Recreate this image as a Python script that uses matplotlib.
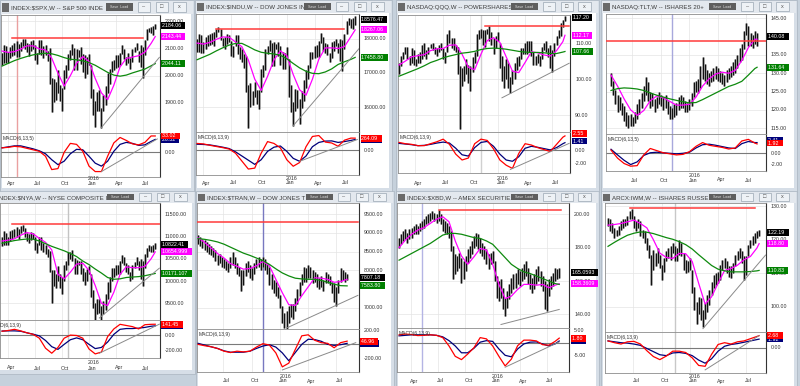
import matplotlib
matplotlib.use("Agg")
import matplotlib.pyplot as plt
from matplotlib.patches import Rectangle
from matplotlib import font_manager, transforms
import pandas as pd

# ======================= DATA =======================
# --- S&P 500 ($SPX) weekly ---
spx_start = "2015-03-13"
spx_hi = [2083,2114,2107,2088,2106,2111,2120,2126,2117,2123,
          2134,2133,2121,2115,2126,2129,2112,2083,2129,2132,
          2110,2113,2092,2103,1993,1986,1975,2021,1965,1954,
          2020,2039,2080,2094,2116,2100,2097,2095,2104,2080,
          2076,2068,2081,2038,1950,1908,1940,1947,1881,1930,
          1962,2010,2023,2052,2056,2075,2075,2084,2112,2099,
          2067,2084,2064,2099,2106,2120,2091,2113,2104,2132,
          2169,2175,2178,2183,2188]
spx_lo = [2040,2045,2045,2045,2064,2073,2077,2067,2069,2089,
          2109,2099,2085,2072,2089,2099,2056,2044,2078,2077,
          2063,2076,2053,1971,1867,1903,1910,1938,1908,1872,
          1950,1990,2019,2058,2076,2022,2019,2070,2042,2012,
          1993,2006,2038,1918,1857,1812,1872,1872,1810,1871,
          1891,1937,1969,2012,2022,2027,2033,2039,2079,2060,
          2039,2045,2026,2049,2086,2095,2051,2032,1992,2074,
          2130,2159,2157,2147,2169]
spx_fast = [2090,2085,2088,2097,2109,2109,2098,2094,2064,2009,1962,2000,2045,
            2070,2052,1990,1937,1912,1965,2032,2063,2068,2073,2086,2118,2143]
spx_slow = [2035,2045,2055,2063,2070,2076,2080,2082,2080,2074,2066,2060,2058,
            2054,2048,2038,2025,2012,2002,1998,2002,2010,2017,2024,2036,2044]
spx_macd = [9,10,12,11,8,5,2,-8,-35,-33,0,18,16,2,-28,-39,-39,-8,19,30,24,17,15,20,33,33]
spx_signal = [9,11,13,13,10,7,3,-3,-15,-25,-18,-3,6,5,-8,-22,-28,-18,2,16,20,18,14,15,22,26]
spx_resist = [2137, "2015-04-17", "2016-07-01"]
spx_trend = [("2016-02-12", 1810), ("2016-08-26", 2067)]
spx_macd_trend = [("2016-02-12", -39), ("2016-08-19", 27)]
spx_mark = "2015-05-01"
spx_tags = ["2184.06", "2143.44", "2044.11"]
spx_macd_tags = ["33.02", "26.32"]
spx_levels = [1900, 2000, 2100, 2200]
spx_macd_levels = [0]

# --- Dow Jones Industrials ($INDU) weekly ---
indu_start = "2015-03-13"
indu_hi = [18000,18160,18130,17900,18070,18110,18140,18180,18200,18290,
           18350,18300,18040,18050,18150,18110,17950,17800,18130,18120,
           17750,17700,17550,17500,16650,16700,16480,16740,16500,16500,
           17120,17240,17700,17800,17980,17880,17900,17860,17900,17780,
           17620,17600,17750,17400,16650,16150,16520,16500,16240,16480,
           16800,17100,17240,17630,17630,17800,17830,17950,18170,18050,
           17880,17840,17600,17900,17930,18000,17870,18000,17980,18150,
           18540,18620,18600,18620,18670]
indu_lo = [17630,17630,17600,17600,17720,17800,17820,17840,17800,18050,
           18200,17980,17800,17700,17860,17900,17500,17470,17780,17560,
           17400,17330,17160,16450,15370,16000,16050,16300,16100,15950,
           16450,16880,17100,17550,17650,17220,17200,17700,17500,17230,
           17130,17120,17400,16300,15840,15450,15880,15960,15500,15970,
           16170,16550,16820,17150,17400,17450,17480,17480,17870,17660,
           17600,17530,17330,17440,17650,17800,17600,17350,17060,17710,
           18150,18400,18330,18300,18400]
indu_fast = [17880,17850,17900,17990,18061,18052,17912,17771,17382,16820,16487,16902,17383,
             17650,17511,16956,16506,16346,16819,17406,17738,17738,17722,17777,18070,18267]
indu_slow = [17390,17470,17550,17650,17740,17820,17870,17870,17780,17680,17610,17580,17560,
             17520,17420,17280,17150,17050,16990,16980,17030,17120,17250,17330,17400,17459]
indu_macd = [150,140,110,85,60,30,-60,-230,-400,-380,-60,190,150,55,-200,-340,-260,80,300,
             320,180,160,90,220,265,264]
indu_signal = [133,128,118,95,70,40,-30,-120,-210,-300,-200,-20,70,95,-20,-170,-234,-120,80,
               172,200,205,172,190,215,234]
indu_resist = [18300, "2015-05-15", "2016-07-08"]
indu_trend = [("2016-01-22", 15450), ("2016-08-26", 17730)]
indu_macd_trend = [("2016-02-12", -234), ("2016-08-19", 234)]
indu_mark = None
indu_tags = ["18576.47", "18267.06", "17458.80"]
indu_macd_tags = ["264.09", "233.70"]
indu_levels = [16000, 17000, 18000]
indu_macd_levels = [0]

# --- PowerShares QQQ weekly ---
qqq_start = "2015-02-06"
qqq_hi = [104.5,106.5,107.5,109.0,109.0,106.5,108.5,108.0,105.7,107.0,
          107.5,109.5,110.0,108.0,109.0,109.7,110.0,109.0,108.5,109.5,
          110.0,108.5,107.5,112.5,113.5,111.5,111.5,109.5,109.0,103.5,
          103.0,103.5,105.5,104.0,103.5,106.0,107.5,112.5,113.5,114.0,
          113.5,113.5,114.0,114.7,113.0,111.5,112.0,113.0,110.0,106.5,
          103.5,105.5,104.5,100.5,102.5,104.5,106.0,106.5,108.5,108.5,
          110.0,110.5,110.5,110.7,107.5,106.5,107.0,106.5,109.0,110.0,
          110.5,108.5,109.5,108.0,110.0,112.0,113.5,115.5,116.5,117.5]
qqq_lo = [101.5,103.5,105.5,107.0,105.5,104.0,104.5,104.0,103.5,104.5,
          104.5,105.5,106.5,105.5,107.0,108.5,108.0,107.0,106.5,107.5,
          108.0,105.5,104.5,107.5,110.0,108.5,108.0,107.5,101.5,86.2,
          98.0,99.5,101.5,99.0,96.8,102.0,104.5,106.5,111.0,111.5,
          109.5,109.0,112.5,110.5,109.5,107.0,108.5,110.5,103.0,99.5,
          97.5,100.0,97.5,96.1,98.5,100.0,102.5,103.5,105.5,107.0,
          107.0,107.0,107.5,106.5,104.0,104.0,104.5,103.5,105.5,108.0,
          107.5,106.0,103.0,102.0,106.5,109.5,111.5,112.0,114.5,116.0]
qqq_fast = [103.9,105.0,106.2,106.5,106.8,107.9,108.4,108.5,109.4,109.5,106.9,103.3,102.6,106.9,
            110.7,111.5,110.2,106.2,102.2,101.8,104.6,107.6,107.3,106.7,106.4,107.9,110.4,112.17]
qqq_slow = [100.8,101.5,102.2,102.9,103.7,104.6,105.2,105.9,106.4,106.8,107.2,107.4,107.7,108.2,
            108.5,108.6,108.5,108.3,108.0,107.7,107.5,107.4,107.4,107.3,107.1,107.1,107.5,107.66]
qqq_macd = [1.2,1.0,0.9,0.7,0.7,1.0,1.3,1.7,0.9,-0.6,-1.5,-1.2,1.0,1.7,1.5,0.2,-1.5,-2.3,-2.8,
            -0.5,1.0,0.8,0.4,0.1,-0.2,0.9,2.0,2.2]
qqq_signal = [1.05,0.95,0.85,0.7,0.75,0.9,1.1,1.25,1.1,0.3,-0.7,-0.9,0.4,1.2,1.35,0.6,-0.6,-1.5,
              -1.7,-1.0,0.3,0.6,0.45,0.25,0.05,0.4,1.0,1.16]
qqq_resist = [114.7, "2015-11-20", "2016-08-26"]
qqq_trend = [("2016-01-15", 94.8), ("2016-08-26", 104.4)]
qqq_macd_trend = [("2016-02-12", -2.95), ("2016-08-26", 1.05)]
qqq_mark = "2015-11-06"
qqq_tags = ["117.20", "112.17", "107.66"]
qqq_macd_tags = ["2.55", "1.41"]
qqq_levels = [90, 100, 110]
qqq_macd_levels = [0, -2]

# --- iShares 20+ Year Treasury (TLT) weekly ---
tlt_start = "2015-04-24"
tlt_hi = [130.0,128.0,125.5,124.0,123.5,122.0,121.0,119.5,118.5,119.0,
          118.0,119.5,121.5,123.0,124.5,126.5,129.0,127.5,125.0,124.5,
          123.0,123.5,125.0,124.0,123.5,124.0,122.5,121.0,120.5,121.5,
          122.0,123.5,124.0,123.5,122.5,122.0,123.0,124.5,127.5,128.0,
          128.5,132.0,134.5,132.5,131.0,130.0,130.5,131.5,132.0,131.5,
          130.5,130.0,129.5,131.0,131.5,132.0,133.0,134.0,135.0,137.0,
          138.0,141.5,143.8,143.0,141.0,140.5,141.5,141.0]
tlt_lo = [126.5,124.0,121.5,119.5,120.0,118.5,117.0,115.5,115.0,115.5,
          115.5,116.5,117.5,119.0,120.5,122.5,124.0,122.5,120.5,121.0,
          119.5,120.5,121.5,121.0,120.0,120.5,119.0,117.5,117.5,118.0,
          118.5,120.0,120.5,120.5,119.5,119.5,120.0,121.0,123.5,125.0,
          124.5,126.0,128.5,128.0,127.0,126.5,127.5,128.0,128.5,128.0,
          127.5,127.0,126.5,127.5,128.5,129.0,129.5,130.0,131.5,133.0,
          133.5,136.5,140.5,137.5,137.5,137.0,138.0,137.5]
tlt_fast = [129.5,126.5,123.0,120.0,118.5,119.8,122.5,123.8,123.3,122.3,121.3,121.3,121.5,
            123.5,126.5,128.5,129.8,130.3,130.0,130.8,133.5,137.0,139.3,139.3]
tlt_slow = [125.3,125.8,126.0,125.9,125.7,125.3,124.6,124.0,123.5,123.0,122.6,122.2,121.9,
            122.0,122.8,123.7,124.6,125.5,126.4,127.0,127.8,129.5,131.3,131.64]
tlt_macd = [0.6,-0.9,-1.9,-2.4,-2.3,-0.3,0.9,0.5,0.1,-0.1,-0.3,-0.2,0.3,1.3,2.0,1.5,1.3,1.1,
            0.8,1.0,2.3,2.6,1.9,1.75]
tlt_signal = [0.75,-0.3,-1.3,-2.1,-1.6,-0.4,0.1,0.2,0.1,0.0,-0.1,0.0,0.2,1.0,1.6,1.7,1.5,1.25,
              1.0,0.9,1.8,2.2,2.0,2.0]
tlt_resist = [138.9, "2015-03-27", "2016-09-09"]
tlt_trend = None
tlt_macd_trend = None
tlt_mark = "2015-11-06"
tlt_tags = ["140.08", None, "131.64"]
tlt_macd_tags = ["1.92", "2.41"]
tlt_levels = [115, 120, 125, 130, 135, 145]
tlt_macd_levels = [0, -2]

# --- NYSE Composite ($NYA) weekly ---
nya_start = "2015-03-13"
nya_hi = [11000,11130,11080,10980,11120,11150,11180,11220,11170,11230,
          11250,11200,11080,11050,11100,11080,10980,10850,11000,10990,
          10850,10800,10720,10680,10250,10250,10150,10330,10150,10100,
          10350,10450,10650,10650,10700,10520,10480,10450,10450,10300,
          10200,10280,10330,10150,9800,9500,9600,9600,9450,9550,
          9700,9980,10100,10300,10300,10350,10350,10450,10580,10550,
          10400,10350,10200,10350,10420,10550,10450,10500,10450,10600,
          10750,10800,10780,10820,10850]
nya_lo = [10780,10800,10800,10800,10900,10950,10990,11000,10950,11080,
          11130,11000,10910,10850,10920,10950,10700,10620,10800,10700,
          10650,10600,10550,10200,9500,9900,9850,10000,9850,9700,
          10000,10250,10350,10500,10450,10150,10150,10350,10150,10000,
          9920,10000,10150,9650,9400,9100,9250,9280,9030,9250,
          9350,9600,9750,10000,10100,10130,10150,10150,10400,10350,
          10200,10150,10000,10050,10300,10350,10250,10050,9880,10300,
          10550,10680,10650,10650,10720]
nya_fast = [10900,10920,10950,11030,11090,11060,10960,10870,10700,10150,10050,10200,10380,
            10400,10240,9900,9500,9450,9750,10150,10320,10300,10300,10330,10500,10655]
nya_slow = [10850,10880,10910,10930,10945,10940,10900,10840,10780,10730,10680,10620,10550,
            10450,10370,10270,10180,10080,10040,10050,10080,10090,10100,10120,10150,10171]
nya_macd = [50,60,75,55,30,10,-40,-170,-235,-160,-40,0,-5,-40,-180,-244,-220,-20,80,140,125,
            110,80,135,140,141]
nya_signal = [53,55,55,50,30,12,-10,-70,-150,-185,-120,-60,-36,-60,-120,-175,-160,-90,10,75,
              85,85,90,100,115,120]
nya_resist = [11276, "2015-04-17", "2016-09-09"]
nya_trend = [("2016-02-05", 9170), ("2016-08-26", 10290)]
nya_macd_trend = [("2016-02-05", -235), ("2016-08-26", 142)]
nya_mark = "2015-10-23"
nya_tags = ["10822.41", "10654.999", "10171.107"]
nya_macd_tags = ["141.45", "120.30"]
nya_levels = [9500, 10000, 10500, 11000, 11500]
nya_macd_levels = [0, -200]

# --- Dow Jones Transports ($TRAN) weekly ---
tran_start = "2015-04-10"
tran_hi = [8950,8900,8850,8800,8750,8700,8650,8600,8550,8400,
           8450,8350,8300,8250,8200,8350,8500,8350,8200,8100,
           8000,8000,8200,8250,8150,8050,8200,8300,8350,8300,
           8350,8300,8200,8100,7900,7750,7700,7550,7350,7050,
           6850,6900,7050,7100,7100,7250,7500,7700,7900,8100,
           8050,8150,8100,8000,7950,7900,7800,7850,7750,7950,
           7900,7850,7700,7650,7550,7750,8050,8000,7950,7900]
tran_lo = [8700,8650,8600,8550,8500,8450,8400,8350,8250,8150,
           8200,8100,8050,8000,7950,8050,8150,8050,7900,7850,
           7450,7600,7850,7950,7800,7750,7900,8050,8100,8000,
           8100,8000,7900,7600,7500,7400,7300,7250,7000,6600,
           6450,6403,6600,6750,6700,6900,7100,7300,7600,7700,
           7700,7800,7800,7650,7700,7550,7500,7550,7450,7650,
           7650,7600,7400,7150,7050,7400,7700,7750,7700,7750]
tran_fast = [8870,8750,8600,8450,8330,8180,8110,8030,8050,8120,8240,8120,7760,7400,7080,
             7060,7320,7560,7800,7790,7760,7680,7700,7760]
tran_slow = [8850,8830,8800,8760,8700,8620,8540,8460,8400,8330,8260,8160,8040,7930,7850,
             7790,7770,7760,7760,7730,7680,7630,7590,7584]
tran_macd = [0,-20,-35,-60,-100,-120,-100,-110,-100,-40,10,-10,-125,-330,-275,-75,125,140,
             60,25,15,-50,25,47]
tran_signal = [15,-10,-35,-60,-95,-115,-115,-115,-100,-60,-25,-5,-40,-125,-240,-120,0,75,
               70,45,0,-15,-5,15]
tran_resist = [9288, "2015-03-27", "2016-09-09"]
tran_trend = [("2016-01-22", 6457), ("2016-09-09", 7330)]
tran_macd_trend = [("2016-01-08", -375), ("2016-09-02", 25)]
tran_mark = "2015-11-06"
tran_tags = ["7807.18", None, "7583.80"]
tran_macd_tags = ["46.96", "14.80"]
tran_levels = [7000, 8000, 8500, 9000, 9500]
tran_macd_levels = [200, -200]

# --- AMEX Securities Broker/Dealer ($XBD) weekly ---
xbd_start = "2015-02-20"
xbd_hi = [186,188,190,191,189,191,192,193,194,193,
          195,196,197,199,200,201,202,201,200,202.5,
          200,197,196,195,193,190,181,176,175,177,
          174,172,175,179,181,184,187,189,188,186,
          183,181,179,176,177,178,172,163,160,161,
          156,150,154,158,162,164,165,167,166,168,
          170,172,168,164,162,164,167,169,166,163,
          160,158,161,163,165,168,167,168]
xbd_lo = [180,182,184,185,183,185,186,188,188,188,
          190,191,192,194,195,196,197,196,195,196,
          194,190,189,188,186,178,161,164,166,168,
          159,161,166,171,174,176,180,181,179,177,
          175,173,170,167,170,171,160,150,148,150,
          143,139,144,149,153,155,156,158,157,160,
          161,163,158,155,153,155,158,160,157,154,
          143,142,151,155,157,160,161,162]
xbd_fast = [180,184.5,188,190.5,192,194.5,197,198.5,195.5,184,175,170,174.5,179.5,178.5,170,
            158,149.5,151,155,158,158,157.5,158,156,157.5,158.36]
xbd_slow = [172.5,174.5,176.5,178.5,180.5,182.5,185,187.5,188.5,188.5,188,187,186,185.5,184,
            182,178,174,170,167.5,165.5,164.5,163,161.5,160,158.5,158]
xbd_macd = [3.1,3.4,3.2,2.8,2.9,3.1,2.9,2.0,-1.3,-5.4,-6.7,-4.5,-2.0,2.0,1.5,-1.3,-5.4,-9.2,
            -6.5,-1.2,1.0,1.0,0.7,-0.8,-1.0,0.5,1.8]
xbd_signal = [2.7,2.9,3.1,3.1,3.1,3.1,2.9,2.3,0.8,-1.3,-4.0,-4.0,-2.2,0.2,0.8,0.5,-2.5,-5.0,
              -5.6,-2.5,-0.5,0.2,0.3,-0.5,-1.3,-0.5,0.66]
xbd_resist = [202.6, "2015-07-03", "2016-08-19"]
xbd_trend = [("2016-01-29", 134), ("2016-08-12", 143)]
xbd_macd_trend = [("2016-02-12", -9.7), ("2016-08-12", 0.3)]
xbd_mark = "2015-05-08"
xbd_tags = ["165.0593", "158.3609", None]
xbd_macd_tags = ["1.80", "0.66"]
xbd_levels = [140, 160, 180, 200]
xbd_macd_levels = [5, -5]

# --- iShares Russell 2000 (IWM) weekly ---
iwm_start = "2015-04-10"
iwm_hi = [126.5,126.0,125.0,123.5,123.0,124.0,125.5,126.0,126.0,127.0,
          128.5,129.1,127.0,125.5,126.0,125.5,123.0,122.5,120.5,118.5,
          115.5,117.0,116.0,117.5,115.5,112.5,114.5,116.5,117.5,118.0,
          119.0,118.0,117.5,120.0,119.0,116.0,114.0,113.5,114.5,111.0,
          106.0,101.5,103.0,102.5,99.0,101.0,103.5,105.0,107.5,109.5,
          110.0,110.5,112.5,114.0,114.5,113.5,112.0,112.0,113.0,115.5,
          116.5,117.5,116.5,115.0,115.0,118.5,120.0,121.0,122.0,122.5,
          123.0]
iwm_lo = [124.0,122.5,122.0,120.5,121.0,121.5,123.0,123.5,124.0,124.5,
          126.0,126.0,123.5,122.5,123.5,121.0,120.5,119.0,117.0,114.5,
          106.5,111.0,112.0,113.0,111.5,108.0,110.5,113.5,114.5,114.0,
          116.0,113.5,113.5,115.5,115.0,111.0,110.0,110.5,111.0,104.0,
          99.0,95.0,98.0,96.0,94.0,96.5,98.5,100.5,103.5,105.5,
          106.5,107.0,108.0,111.0,111.5,110.0,109.0,108.5,110.0,112.0,
          114.0,114.5,113.0,108.0,109.5,115.0,117.5,118.5,119.0,120.5,
          121.0]
iwm_fast = [124.3,124.5,124.8,125.3,125.8,124.8,123.5,120.0,116.0,114.7,114.4,115.9,115.8,
            113.5,107.0,100.8,103.0,107.0,110.8,111.4,112.4,114.0,115.0,117.5,118.8]
iwm_slow = [118.0,119.2,120.3,121.3,121.9,122.3,122.2,121.8,121.2,120.6,120.1,119.4,118.5,
            117.2,115.5,113.9,112.3,111.2,110.7,110.4,110.4,110.4,110.5,110.7,110.83]
iwm_macd = [1.5,1.1,0.8,1.3,1.4,0.8,-0.7,-2.0,-2.7,-1.9,-0.8,-0.8,-1.1,-2.3,-4.0,-4.2,-1.5,
            0.7,1.1,0.8,1.3,1.5,2.0,2.5,2.68]
iwm_signal = [1.5,1.3,1.1,1.0,0.8,0.5,-0.2,-0.9,-1.6,-1.8,-1.2,-1.1,-1.3,-1.8,-2.8,-3.5,-2.5,
              -0.8,0.3,0.7,0.9,1.2,1.5,1.8,1.9]
iwm_resist = [129.3, "2015-06-19", "2016-07-29"]
iwm_trend = [("2016-02-12", 93.5), ("2016-09-02", 115.4)]
iwm_macd_trend = [("2016-02-19", -5.0), ("2016-08-12", 2.68)]
iwm_mark = "2015-11-13"
iwm_tags = ["122.19", "118.80", "110.83"]
iwm_macd_tags = ["2.68", "1.92"]
iwm_levels = [100, 110, 120, 130]
iwm_macd_levels = [0]

# ======================= STYLE / LAYOUT =======================
W, H = 800, 386
_names = {f.name for f in font_manager.fontManager.ttflist}
if "Liberation Sans Narrow" in _names:
    FONT, K = "Liberation Sans Narrow", 1.0
else:
    FONT, K = "Liberation Sans", 0.82
plt.rcParams["font.family"] = [FONT, "DejaVu Sans"]

FRAME = "#c6d1dc"
TITLEBG = "#e3e8ee"
FS_TITLE = 5.4 * K
FS_LAB = 4.6 * K
FS_MACD = 4.4 * K

PANELS = [
    dict(title="INDEX:$SPX,W -- S&P 500 INDE", start=spx_start, hi=spx_hi, lo=spx_lo,
         fast=spx_fast, slow=spx_slow, macd=spx_macd, sig=spx_signal, resist=spx_resist,
         trend=spx_trend, mtrend=spx_macd_trend, mark=spx_mark, tags=spx_tags,
         mtags=spx_macd_tags, levels=spx_levels, mlevels=spx_macd_levels, mtitle="MACD(6,13,5)",
         win=(0, 0, 194, 192), th=14, px=(1, 160), py=(15, 133, 177), ly=184, tdx=0, mtx=0.01,
         xlim=(-0.5, 76.3), ylim=(1790, 2222), mylim=(-50, 39), mcol="#eaa0a0"),
    dict(title="INDEX:$INDU,W -- DOW JONES IN", start=indu_start, hi=indu_hi, lo=indu_lo,
         fast=indu_fast, slow=indu_slow, macd=indu_macd, sig=indu_signal, resist=indu_resist,
         trend=indu_trend, mtrend=indu_macd_trend, mark=indu_mark, tags=indu_tags,
         mtags=indu_macd_tags, levels=indu_levels, mlevels=indu_macd_levels, mtitle="MACD(6,13,9)",
         win=(195, 0, 392, 192), th=13, px=(196, 359), py=(14, 132, 175), ly=183, tdx=0, mtx=0.01,
         xlim=(-0.5, 75.8), ylim=(15265, 18735), mylim=(-528, 396), mcol="#cccccc"),
    dict(title="NASDAQ:QQQ,W -- POWERSHARES C", start=qqq_start, hi=qqq_hi, lo=qqq_lo,
         fast=qqq_fast, slow=qqq_slow, macd=qqq_macd, sig=qqq_signal, resist=qqq_resist,
         trend=qqq_trend, mtrend=qqq_macd_trend, mark=qqq_mark, tags=qqq_tags,
         mtags=qqq_macd_tags, levels=qqq_levels, mlevels=qqq_macd_levels, mtitle="MACD(6,13,9)",
         win=(396, 0, 599, 192), th=13, px=(398, 570), py=(15, 132, 173), ly=183, tdx=0, mtx=0.01,
         xlim=(-0.5, 81.4), ylim=(85.3, 117.8), mylim=(-3.5, 2.8), mcol="#d0d0d0"),
    dict(title="NASDAQ:TLT,W -- ISHARES 20+", start=tlt_start, hi=tlt_hi, lo=tlt_lo,
         fast=tlt_fast, slow=tlt_slow, macd=tlt_macd, sig=tlt_signal, resist=tlt_resist,
         trend=tlt_trend, mtrend=tlt_macd_trend, mark=tlt_mark, tags=tlt_tags,
         mtags=tlt_macd_tags, levels=tlt_levels, mlevels=tlt_macd_levels, mtitle="MACD(6,13,5)",
         win=(601, 0, 797, 192), th=13, px=(606, 766), py=(14, 134, 171), ly=180, tdx=0, mtx=0.01,
         xlim=(-2.3, 71.1), ylim=(113.4, 146.2), mylim=(-3.3, 3.6), mcol="#a8a8dc"),
    dict(title="INDEX:$NYA,W -- NYSE COMPOSITE I", start=nya_start, hi=nya_hi, lo=nya_lo,
         fast=nya_fast, slow=nya_slow, macd=nya_macd, sig=nya_signal, resist=nya_resist,
         trend=nya_trend, mtrend=nya_macd_trend, mark=nya_mark, tags=nya_tags,
         mtags=nya_macd_tags, levels=nya_levels, mlevels=nya_macd_levels, mtitle="MACD(6,13,9)",
         win=(-14, 191, 195, 374), th=12, px=(0, 160), py=(203, 320, 358), ly=368, tdx=0, mtx=-0.065,
         xlim=(-1.0, 76.3), ylim=(9125, 11754), mylim=(-297, 196), mcol="#c4c4c4"),
    dict(title="INDEX:$TRAN,W -- DOW JONES T", start=tran_start, hi=tran_hi, lo=tran_lo,
         fast=tran_fast, slow=tran_slow, macd=tran_macd, sig=tran_signal, resist=tran_resist,
         trend=tran_trend, mtrend=tran_macd_trend, mark=tran_mark, tags=tran_tags,
         mtags=tran_macd_tags, levels=tran_levels, mlevels=tran_macd_levels, mtitle="MACD(6,13,9)",
         win=(196, 191, 394, 390), th=12, px=(197, 359), py=(203, 329, 372), ly=381, tdx=0, mtx=0.01,
         xlim=(-0.5, 74.5), ylim=(6430, 9802), mylim=(-405, 225), mcol="#7878c0"),
    dict(title="INDEX:$XBD,W -- AMEX SECURITIES I", start=xbd_start, hi=xbd_hi, lo=xbd_lo,
         fast=xbd_fast, slow=xbd_slow, macd=xbd_macd, sig=xbd_signal, resist=xbd_resist,
         trend=xbd_trend, mtrend=xbd_macd_trend, mark=xbd_mark, tags=xbd_tags,
         mtags=xbd_macd_tags, levels=xbd_levels, mlevels=xbd_macd_levels, mtitle="MACD(6,13,9)",
         win=(396, 191, 599, 390), th=12, px=(397, 569), py=(203, 328, 372), ly=381, tdx=0, mtx=0.01,
         xlim=(-1.0, 81.7), ylim=(131.9, 206.7), mylim=(-11.6, 5.8), mcol="#b4b4e4"),
    dict(title="ARCX:IWM,W -- ISHARES RUSSEL", start=iwm_start, hi=iwm_hi, lo=iwm_lo,
         fast=iwm_fast, slow=iwm_slow, macd=iwm_macd, sig=iwm_signal, resist=iwm_resist,
         trend=iwm_trend, mtrend=iwm_macd_trend, mark=iwm_mark, tags=iwm_tags,
         mtags=iwm_macd_tags, levels=iwm_levels, mlevels=iwm_macd_levels, mtitle="MACD(6,13,9)",
         win=(601, 191, 797, 390), th=12, px=(605, 766), py=(203, 332, 373), ly=381, tdx=0, mtx=0.01,
         xlim=(-1.4, 73.2), ylim=(92.5, 130.9), mylim=(-5.7, 3.5), mcol="#c8c8c8"),
]

fig = plt.figure(figsize=(W / 100, H / 100), dpi=100)
fig.patch.set_facecolor(FRAME)


def frect(x0, y0, x1, y1, fc, ec="none", lw=0.0, z=-5):
    r = Rectangle((x0 / W, 1 - y1 / H), (x1 - x0) / W, (y1 - y0) / H,
                  transform=fig.transFigure, facecolor=fc, edgecolor=ec, linewidth=lw, zorder=z)
    fig.add_artist(r)


def ftext(x, y, s, **kw):
    fig.text(x / W, 1 - y / H, s, **kw)


def sample_idx(n):
    idx = list(range(0, n, 3))
    if idx[-1] != n - 1:
        idx.append(n - 1)
    return idx


def style_axes(ax):
    ax.set_facecolor("white")
    for s in ("left", "top", "bottom"):
        ax.spines[s].set_color("#8c8c8c")
        ax.spines[s].set_linewidth(0.6)
    ax.spines["right"].set_color("#333333")
    ax.spines["right"].set_linewidth(0.8)
    ax.set_xticks([])
    ax.set_yticks([])


def right_text(ax, y, s, fc=None, tc="#333333", z=5):
    tr = transforms.blended_transform_factory(ax.transAxes, ax.transData)
    kw = dict(transform=tr, ha="left", va="center", fontsize=FS_LAB, color=tc,
              clip_on=False, zorder=z)
    if fc is not None:
        kw["bbox"] = dict(boxstyle="square,pad=0.18", fc=fc, ec="none")
        ax.text(1.015, y, s + "  ", **kw)
    else:
        ax.text(1.03, y, s, **kw)


for P in PANELS:
    wx0, wy0, wx1, wy1 = P["win"]
    th = P["th"]
    # window chrome
    frect(wx0, wy0, wx1, wy1, "#d6dee7", ec="#a9b4bf", lw=0.5, z=-6)
    frect(wx0 + 1, wy0 + 1, wx1 - 1, wy0 + th, TITLEBG, z=-5)
    frect(wx0 + 2, wy0 + th, wx1 - 3, wy1 - 4, "white", z=-5)
    frect(wx0 + 2, wy0 + 3, wx0 + 9, wy0 + th - 2, "#6a6a6a", z=-4)
    ftext(wx0 + 11 + P["tdx"], wy0 + th / 2 + 0.5, P["title"], fontsize=FS_TITLE,
          color="#3a3a3a", ha="left", va="center", zorder=1)
    frect(wx1 - 88, wy0 + 3, wx1 - 61, wy0 + th - 3, "#5e5e5e", z=2)
    ftext(wx1 - 74.5, wy0 + th / 2, "Save  Load", fontsize=2.6, color="#e0e0e0",
          ha="center", va="center", zorder=3)
    for bx0, bx1, sym in ((wx1 - 56, wx1 - 44, "\u2013"), (wx1 - 38, wx1 - 26, "\u25a1"),
                          (wx1 - 21, wx1 - 8, "x")):
        frect(bx0, wy0 + 2, bx1, wy0 + th - 2, "#eef2f6", ec="#9aa6b2", lw=0.5, z=2)
        ftext((bx0 + bx1) / 2, wy0 + th / 2, sym, fontsize=4, color="#555555",
              ha="center", va="center", zorder=3)

    px0, px1 = P["px"]
    pt, pm, pb = P["py"]
    ax = fig.add_axes([px0 / W, 1 - pm / H, (px1 - px0) / W, (pm - pt) / H])
    am = fig.add_axes([px0 / W, 1 - pb / H, (px1 - px0) / W, (pb - pm) / H])
    for a in (ax, am):
        style_axes(a)
        a.set_xlim(*P["xlim"])
    ax.set_ylim(*P["ylim"])
    am.set_ylim(*P["mylim"])

    start = pd.Timestamp(P["start"])

    def wk(d, start=start):
        return (pd.Timestamp(d) - start).days / 7.0

    # month grid + labels
    lab_tr = transforms.blended_transform_factory(am.transData, fig.transFigure)
    for yr in (2015, 2016):
        for mo in (1, 4, 7, 10):
            pos = wk(pd.Timestamp(yr, mo, 1))
            if P["xlim"][0] + 1 < pos < P["xlim"][1] - 2:
                for a in (ax, am):
                    a.axvline(pos, color="#e4e4e4", lw=0.5, zorder=0)
                name = pd.Timestamp(yr, mo, 1).strftime("%b")
                am.text(pos - 0.4, 1 - P["ly"] / H, name, transform=lab_tr, ha="left",
                        va="center", fontsize=FS_LAB, color="#333333", clip_on=False)
                if mo == 1:
                    am.text(pos - 0.4, 1 - (P["ly"] - 5) / H, "2016", transform=lab_tr,
                            ha="left", va="center", fontsize=FS_LAB, color="#333333",
                            clip_on=False)
    # price level grid + labels
    for lv in P["levels"]:
        ax.axhline(lv, color="#e4e4e4", lw=0.5, zorder=0)
        right_text(ax, lv, "%.2f" % lv)
    for lv in P["mlevels"]:
        right_text(am, lv, "%.2f" % lv)

    if P["mark"]:
        for a in (ax, am):
            a.axvline(wk(P["mark"]), color=P["mcol"], lw=1.0, zorder=1)

    n = min(len(P["hi"]), len(P["lo"]))
    xs = list(range(n))
    ax.vlines(xs, P["lo"][:n], P["hi"][:n], color="#a8a8a8", lw=2.0, zorder=2)
    ax.vlines(xs, P["lo"][:n], P["hi"][:n], color="#111111", lw=0.8, zorder=3)

    idx = sample_idx(n)
    m = min(len(idx), len(P["fast"]))
    ax.plot(idx[:m], P["fast"][:m], color="#ff00ff", lw=0.9, zorder=4)
    m = min(len(idx), len(P["slow"]))
    ax.plot(idx[:m], P["slow"][:m], color="#0e8a0e", lw=0.9, zorder=4)

    lvl, d0, d1 = P["resist"]
    ax.plot([wk(d0), wk(d1)], [lvl, lvl], color="#ff3b3b", lw=1.1, zorder=5)
    if P["trend"]:
        (t0, v0), (t1, v1) = P["trend"]
        ax.plot([wk(t0), wk(t1)], [v0, v1], color="#8a8a8a", lw=0.7, zorder=5)

    am.axhline(0, color="#7a7a7a", lw=0.8, zorder=1)
    m = min(len(idx), len(P["sig"]))
    am.plot(idx[:m], P["sig"][:m], color="#00007a", lw=0.9, zorder=3)
    m = min(len(idx), len(P["macd"]))
    am.plot(idx[:m], P["macd"][:m], color="#ff0000", lw=0.9, zorder=4)
    if P["mtrend"]:
        (t0, v0), (t1, v1) = P["mtrend"]
        am.plot([wk(t0), wk(t1)], [v0, v1], color="#8a8a8a", lw=0.7, zorder=5)
    am.text(P["mtx"], 0.93, P["mtitle"], transform=am.transAxes, ha="left", va="top",
            fontsize=FS_MACD, color="#333333", clip_on=False, zorder=6)

    # value tags on the right
    tag_cols = [("#000000", "white"), ("#ff00ff", "white"), ("#008000", "white")]
    for s, (fc, tc) in zip(P["tags"], tag_cols):
        if s is not None:
            right_text(ax, float(s), s, fc=fc, tc=tc, z=8)
    red_s, blue_s = P["mtags"]
    right_text(am, float(blue_s), blue_s, fc="#00007a", tc="white", z=8)
    right_text(am, float(red_s), red_s, fc="#ff0000", tc="white", z=9)

fig.savefig("out.png", dpi=100, facecolor=fig.get_facecolor())
